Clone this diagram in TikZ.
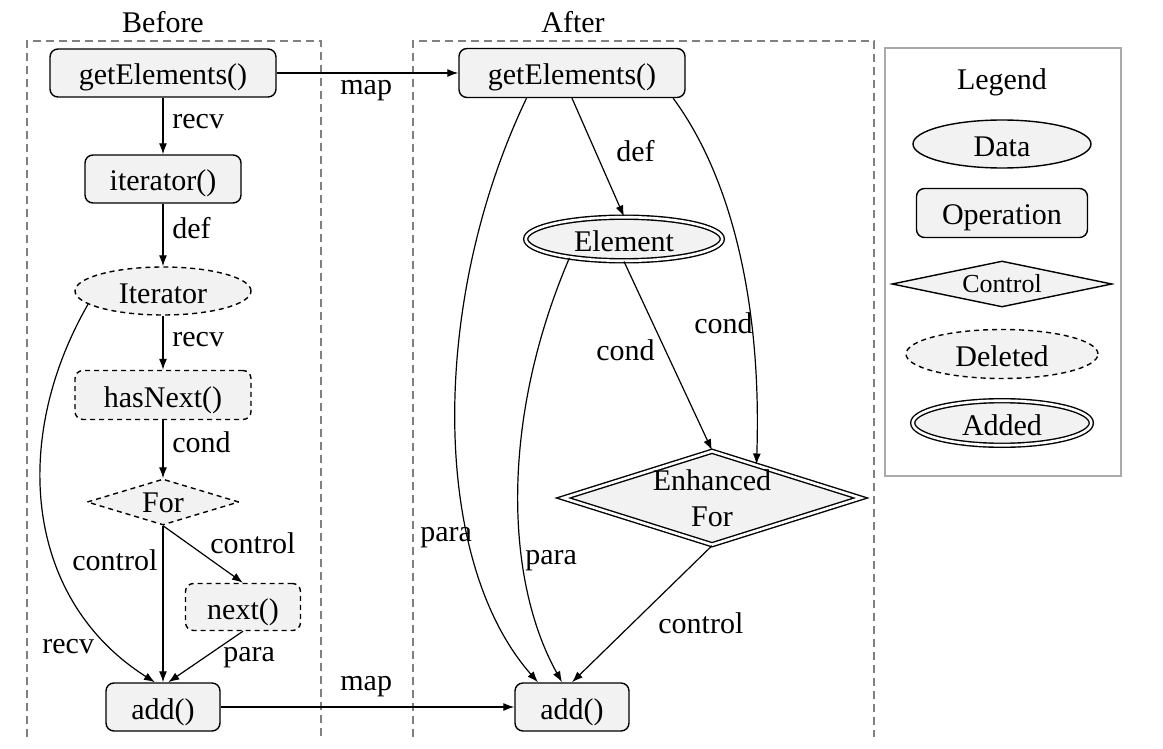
\documentclass[tikz,border=0pt]{standalone}
\usepackage{fontspec}
\setmainfont{Liberation Serif}
\usetikzlibrary{shapes.geometric,arrows.meta}
\definecolor{nodefill}{RGB}{242,242,242}
\definecolor{framegray}{RGB}{128,128,128}
\definecolor{legendgray}{RGB}{170,170,170}
\newcommand\mainsz{\fontsize{15}{18}\selectfont}
\newcommand\smallsz{\fontsize{13}{15}\selectfont}
\begin{document}
\begin{tikzpicture}[x=0.5pt,y=-0.5pt,
  base/.style={draw=black, fill=nodefill, line width=0.7pt, inner sep=0pt, font=\mainsz, text height=12pt, text depth=0pt},
  opbox/.style={base, rectangle, rounded corners=4pt},
  databox/.style={base, ellipse},
  ctlbox/.style={base, diamond},
  delstyle/.style={dash pattern=on 2.5pt off 2pt},
  addstyle/.style={double=white, double distance=1.3pt},
  arr/.style={-{Latex[length=5.5pt,width=4pt]}, line width=0.6pt},
  lbl/.style={inner sep=0pt, anchor=base west, font=\mainsz},
  ttl/.style={inner sep=0pt, anchor=base, font=\mainsz},
  frame/.style={draw=framegray, line width=0.6pt, dash pattern=on 4pt off 2.5pt}
]
\useasboundingbox (0,0) rectangle (1163,749);

% frames
\draw[frame] (27,737) -- (27,41) -- (321,41) -- (321,737);
\draw[frame] (413,737) -- (413,41) -- (874,41) -- (874,737);
\node[ttl] (tBefore) at (163,33) {Before};
\node[ttl] (tAfter) at (573,33) {After};

% Before nodes
\node[opbox, minimum width=113pt, minimum height=24pt] (bge) at (163,73) {getElements()};
\node[opbox, minimum width=78pt, minimum height=24pt] (bit) at (163,179) {iterator()};
\node[databox, delstyle, minimum width=88pt, minimum height=24pt] (bIt) at (163,291) {Iterator};
\node[opbox, delstyle, minimum width=88pt, minimum height=24.5pt] (bhn) at (163,395) {hasNext()};
\node[ctlbox, delstyle, minimum width=76pt, minimum height=23pt, label={[font=\mainsz, yshift=-0.5pt]center:For}] (bfor) at (163,502) {};
\node[opbox, delstyle, minimum width=57.5pt, minimum height=23.5pt] (bnext) at (243,607) {next()};
\node[opbox, minimum width=57pt, minimum height=24pt] (badd) at (163,707) {add()};

% After nodes
\node[opbox, minimum width=113pt, minimum height=24.5pt] (age) at (572,73) {getElements()};
\node[databox, addstyle, minimum width=98.3pt, minimum height=21.8pt] (ael) at (624,239) {Element};
\node[ctlbox, addstyle, minimum width=149pt, minimum height=47pt, label={[font=\mainsz, align=center]center:Enhanced\\For}] (aef) at (712,498) {};
\node[opbox, minimum width=57pt, minimum height=24pt] (aadd) at (572,707) {add()};

% Before edges
\draw[arr] (bge.south) -- (bit.north);
\node[lbl] (lb1) at (172,129) {recv};
\draw[arr] (bit.south) -- (bIt.north);
\node[lbl] (lb2) at (172,238) {def};
\draw[arr] (bIt.south) -- (bhn.north);
\node[lbl] (lb3) at (172,346) {recv};
\draw[arr] (bhn.south) -- (bfor.north);
\node[lbl] (lb4) at (172,452) {cond};
\draw[arr] (bfor.south) -- (bnext.north);
\node[lbl] (lb5) at (210,553) {control};
\draw[arr] (bfor.south) -- (badd.north);
\node[lbl] (lb6) at (72,570) {control};
\draw[arr] (bnext.south) -- (badd.78);
\node[lbl] (lb7) at (223,661) {para};
\draw[arr] (bIt.190) .. controls (10,440) and (25,600) .. (badd.108);
\node[lbl] (lb8) at (42,653) {recv};

% map edges
\draw[arr] (bge.east) -- (age.west);
\node[lbl] (lm1) at (340,95) {map};
\draw[arr] (badd.east) -- (aadd.west);
\node[lbl] (lm2) at (340,690) {map};

% After edges
\draw[arr] (age.south) -- (ael.north);
\node[lbl] (la1) at (616,162) {def};
\draw[arr] (age.-14.6) .. controls (730,175) and (762,300) .. (aef.37);
\node[lbl] (la2) at (694,333) {cond};
\draw[arr] (ael.south) -- (aef.north);
\node[lbl] (la3) at (596,360) {cond};
\draw[arr] (age.-151) .. controls (430,300) and (430,560) .. (aadd.144);
\node[lbl] (la4) at (420,541) {para};
\draw[arr] (ael.-161) .. controls (500,420) and (505,580) .. (aadd.112);
\node[lbl] (la5) at (525,564) {para};
\draw[arr] (aef.south) -- (aadd.north);
\node[lbl] (la6) at (658,633) {control};

% Legend
\draw[legendgray, line width=0.8pt] (885,48) rectangle (1121,476);
\node[ttl] (lgT) at (1002,90) {Legend};
\node[databox, minimum width=89pt, minimum height=24pt] (lgData) at (1002,144) {Data};
\node[opbox, minimum width=85.5pt, minimum height=24.5pt] (lgOp) at (1002,213) {Operation};
\node[ctlbox, minimum width=110pt, minimum height=23pt, label={[font=\smallsz]center:Control}] (lgCtl) at (1002,284) {};
\node[databox, delstyle, minimum width=96pt, minimum height=24.5pt] (lgDel) at (1002,354) {Deleted};
\node[databox, addstyle, minimum width=89.3pt, minimum height=22.3pt] (lgAdd) at (1002,423) {Added};
\end{tikzpicture}
\end{document}
